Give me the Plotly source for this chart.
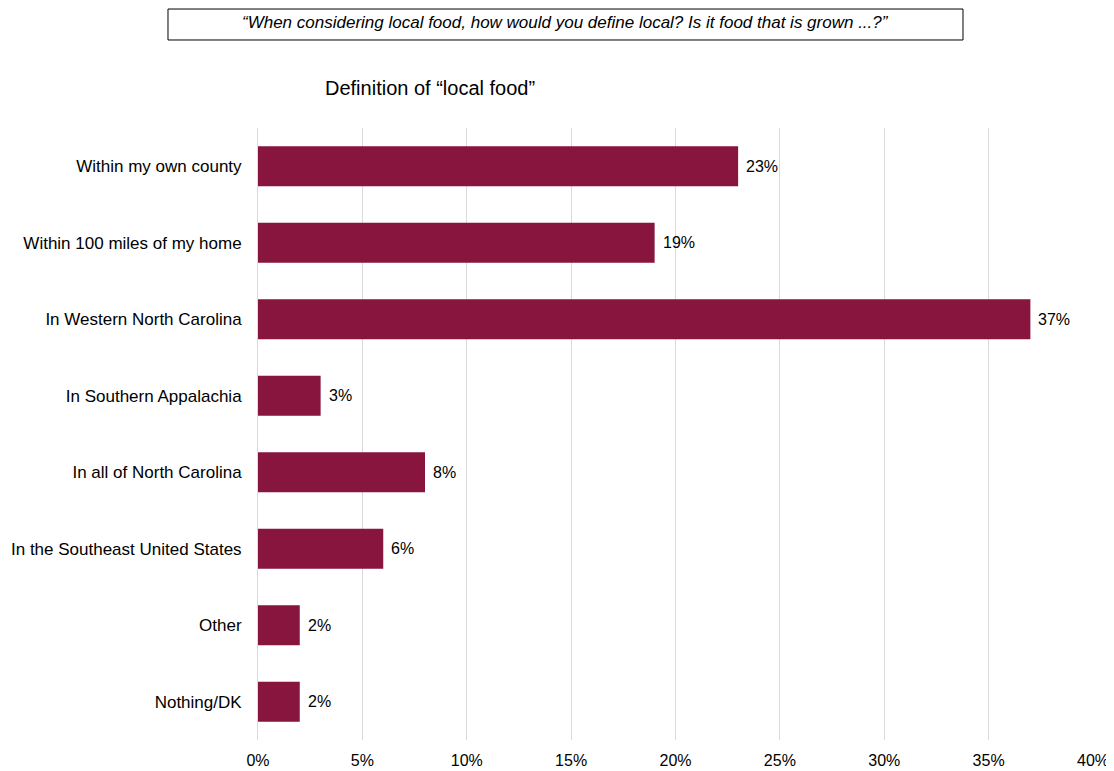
import plotly.graph_objects as go

categories = [
    "Within my own county",
    "Within 100 miles of my home",
    "In Western North Carolina",
    "In Southern Appalachia",
    "In all of North Carolina",
    "In the Southeast United States",
    "Other",
    "Nothing/DK",
]
values = [23, 19, 37, 3, 8, 6, 2, 2]
tick_vals = [0, 5, 10, 15, 20, 25, 30, 35, 40]
tick_text = ["0%", "5%", "10%", "15%", "20%", "25%", "30%", "35%", "40%"]
labels = [f"{v}%" for v in values]

FONT = "Liberation Sans, Arial, sans-serif"

fig = go.Figure(go.Bar(
    x=values,
    y=categories,
    orientation="h",
    marker=dict(color="#87153D", line=dict(width=0)),
    hoverinfo="x+y",
))

annotations = [
    dict(text=lab, x=v, y=c, xref="x", yref="y", xanchor="left", yanchor="middle",
         xshift=6, showarrow=False, font=dict(family=FONT, size=16, color="#000000"))
    for v, c, lab in zip(values, categories, labels)
]
annotations += [
    dict(text="<i>“When considering local food, how would you define local? Is it food that is grown ...?”</i>",
         xref="paper", yref="paper", x=0.3677, y=1.1716,
         xanchor="center", yanchor="middle", showarrow=False,
         font=dict(family=FONT, size=17, color="#000000")),
    dict(text="Definition of “local food”",
         xref="paper", yref="paper", x=0.206, y=1.0654,
         xanchor="center", yanchor="middle", showarrow=False,
         font=dict(family=FONT, size=20, color="#000000")),
]

fig.update_layout(
    width=1106,
    height=763,
    margin=dict(l=250, r=21, t=120, b=31),
    paper_bgcolor="white",
    plot_bgcolor="white",
    bargap=0.48,
    showlegend=False,
    font=dict(family=FONT, size=16, color="#000000"),
    xaxis=dict(
        range=[0, 40],
        tickvals=tick_vals,
        ticktext=tick_text,
        showgrid=True,
        gridcolor="#d9d9d9",
        gridwidth=1,
        zeroline=False,
        showline=False,
        ticks="",
        ticklabelstandoff=9,
        tickfont=dict(family=FONT, size=16),
        automargin=False,
    ),
    yaxis=dict(
        autorange="reversed",
        showgrid=False,
        zeroline=False,
        showline=True,
        linecolor="#d9d9d9",
        linewidth=1,
        layer="below traces",
        ticks="",
        ticklabelstandoff=12,
        tickfont=dict(family=FONT, size=17),
        automargin=False,
    ),
    shapes=[
        dict(type="rect", xref="paper", yref="paper",
             x0=-0.1078, x1=0.8443, y0=1.1438, y1=1.1944,
             line=dict(color="#000000", width=1), fillcolor="rgba(0,0,0,0)"),
    ],
    annotations=annotations,
)

fig.write_html("out.html")
